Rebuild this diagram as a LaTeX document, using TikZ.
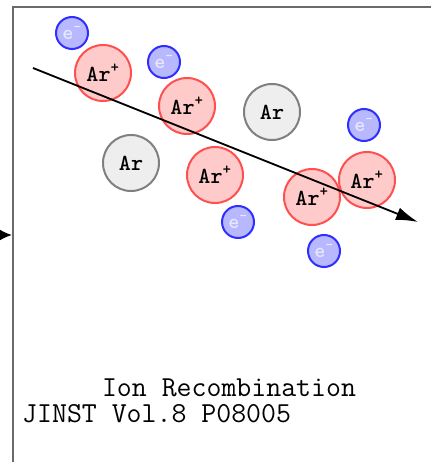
\documentclass[tikz,border=0pt]{standalone}
\usepackage{fontspec}
\usetikzlibrary{arrows.meta}
\definecolor{ionfill}{HTML}{FFCACA}
\definecolor{ionline}{HTML}{FF5050}
\definecolor{atomfill}{HTML}{EEEEEE}
\definecolor{atomline}{HTML}{808080}
\definecolor{elfill}{HTML}{B8B8FF}
\definecolor{elline}{HTML}{2E2EFF}
\definecolor{eltext}{HTML}{E6E6FF}
\definecolor{framecol}{HTML}{6A6A6A}
\tikzset{
  ion/.style={circle, draw=ionline, fill=ionfill, line width=2pt,
    minimum size=56pt, inner sep=0pt,
    font=\fontsize{23}{25}\selectfont\ttfamily\bfseries},
  atom/.style={circle, draw=atomline, fill=atomfill, line width=2pt,
    minimum size=56pt, inner sep=0pt,
    font=\fontsize{23}{25}\selectfont\ttfamily\bfseries},
  electron/.style={circle, draw=elline, fill=elfill, line width=2pt,
    minimum size=32pt, inner sep=0pt, text=eltext,
    font=\fontsize{21}{23}\selectfont\ttfamily\bfseries},
  caption/.style={font=\fontsize{29}{32}\selectfont\ttfamily, inner sep=0pt},
  track/.style={line width=1.8pt, -{Latex[length=22pt,width=13pt]}}
}
\newcommand{\arion}{Ar\textsuperscript{+}}
\newcommand{\elec}{e\textsuperscript{-}}
\begin{document}
\begin{tikzpicture}[x=1pt,y=-1pt]
  \useasboundingbox[fill=white] (0,0) rectangle (430,462);
  % detector frame
  \draw[framecol, line width=2.4pt] (13,470) -- (13,7) -- (440,7);
  % incoming arrow head on the left edge
  \coordinate (inA) at (-30,235);
  \coordinate (inB) at (12,235);
  \draw[line width=1.8pt, -{Latex[length=13pt,width=12pt]}] (inA) -- (inB);
  % electrons
  \node[electron] (e1) at (72,33) {\elec};
  \node[electron] (e2) at (164,62) {\elec};
  \node[electron] (e3) at (364,125) {\elec};
  \node[electron] (e4) at (238,222) {\elec};
  \node[electron] (e5) at (324,251) {\elec};
  % argon ions
  \node[ion] (i1) at (103,73) {\arion};
  \node[ion] (i2) at (187,106) {\arion};
  \node[ion] (i3) at (215,175) {\arion};
  \node[ion] (i4) at (312,197) {\arion};
  \node[ion] (i5) at (367,180) {\arion};
  % neutral argon
  \node[atom] (a1) at (131,163) {Ar};
  \node[atom] (a2) at (272,112) {Ar};
  % ionising track
  \coordinate (ts) at (33,68);
  \coordinate (te) at (418,222);
  \draw[track] (ts) -- (te);
  % captions
  \node[caption] (title) at (229,388) {Ion Recombination};
  \node[caption, anchor=west] (ref) at (22,414) {JINST Vol.8 P08005};
\end{tikzpicture}
\end{document}
